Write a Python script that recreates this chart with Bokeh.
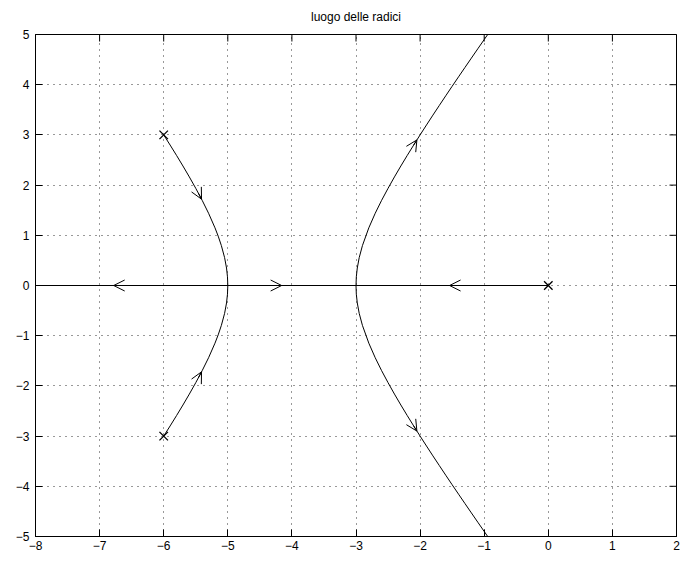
import math

from bokeh.plotting import figure
from bokeh.models import (Range1d, FixedTicker, Arrow, OpenHead,
                          ColumnDataSource, CustomJSTickFormatter)
from bokeh.embed import file_html
from bokeh.resources import INLINE

# Open-loop poles of K / (s (s^2 + 12 s + 45))
pole_re = [0.0, -6.0, -6.0]
pole_im = [0.0, 3.0, -3.0]

# Real-axis part of the locus
axis_re = [-8.0, 0.0]
axis_im = [0.0, 0.0]

# Branch from the upper complex pole down to the break-in point at -5
left_re = [-6.0, -5.9, -5.8, -5.7, -5.6, -5.5, -5.4, -5.3, -5.2, -5.15,
           -5.1, -5.05, -5.02, -5.005, -5.0]
left_im = [3.0, 2.798, 2.592, 2.381, 2.163, 1.936, 1.697, 1.439, 1.149, 0.984,
           0.794, 0.555, 0.348, 0.173, 0.0]

# Branch leaving the breakaway point at -3 towards the +60 deg asymptote
right_re = [-3.0, -2.995, -2.98, -2.95, -2.9, -2.8, -2.7, -2.6, -2.5, -2.4,
            -2.3, -2.2, -2.1, -2.0, -1.9, -1.8, -1.7, -1.6, -1.5, -1.4,
            -1.3, -1.2, -1.1, -1.0, -0.945]
right_im = [0.0, 0.173, 0.348, 0.555, 0.794, 1.149, 1.439, 1.697, 1.936, 2.163,
            2.381, 2.592, 2.798, 3.0, 3.198, 3.394, 3.587, 3.779, 3.969, 4.157,
            4.344, 4.530, 4.715, 4.899, 5.0]

# Direction arrows (tail point -> head point, both on the locus)
arrow_from_re = [-6.5, -4.4, -1.25, -5.46, -5.46, -2.10, -2.10]
arrow_from_im = [0.0, 0.0, 0.0, 1.843, -1.843, 2.798, -2.798]
arrow_to_re = [-6.78, -4.16, -1.54, -5.41, -5.41, -2.05, -2.05]
arrow_to_im = [0.0, 0.0, 0.0, 1.72, -1.72, 2.90, -2.90]

x_ticks = [-8, -7, -6, -5, -4, -3, -2, -1, 0, 1, 2]
y_ticks = [-5, -4, -3, -2, -1, 0, 1, 2, 3, 4, 5]

title_text = "luogo delle radici"

FONT = "Liberation Sans"
X_MIN, X_MAX = -8, 2
Y_MIN, Y_MAX = -5, 5

p = figure(width=684, height=563, x_range=Range1d(X_MIN, X_MAX),
           y_range=Range1d(Y_MIN, Y_MAX),
           output_backend="svg", toolbar_location=None,
           min_border_left=35, min_border_right=8,
           min_border_top=33, min_border_bottom=27,
           title=title_text, background_fill_color="white",
           border_fill_color="white")

p.title.align = "center"
p.title.vertical_align = "top"
p.title.text_font = FONT
p.title.text_font_size = "12px"
p.title.text_font_style = "normal"
p.title.text_color = "black"
p.title.standoff = 18

p.outline_line_color = "black"
p.outline_line_width = 1
p.outline_line_alpha = 1.0

minus_fmt = CustomJSTickFormatter(
    code="return tick < 0 ? '\\u2212' + String(-tick) : String(tick);")

for ax, ticks, standoff in ((p.xaxis[0], x_ticks, 4), (p.yaxis[0], y_ticks, 6)):
    ax.ticker = FixedTicker(ticks=ticks)
    ax.formatter = minus_fmt
    ax.major_tick_in = 7
    ax.major_tick_out = 0
    ax.minor_tick_in = 0
    ax.minor_tick_out = 0
    ax.axis_line_color = "black"
    ax.major_tick_line_color = "black"
    ax.major_label_text_font = FONT
    ax.major_label_text_font_size = "12px"
    ax.major_label_text_color = "black"
    ax.major_label_standoff = standoff

for g, ticks in ((p.xgrid[0], x_ticks), (p.ygrid[0], y_ticks)):
    g.ticker = FixedTicker(ticks=ticks)
    g.grid_line_color = "black"
    g.grid_line_dash = "1 5"
    g.grid_line_width = 1
    g.grid_line_alpha = 0.8

# inward tick marks on the top and right edges of the box (the half that
# falls outside the frame is clipped away)
p.scatter(x_ticks, [Y_MAX] * len(x_ticks), marker="dash", angle=math.pi / 2,
          size=14, line_color="black", line_width=1)
p.scatter([X_MAX] * len(y_ticks), y_ticks, marker="dash",
          size=14, line_color="black", line_width=1)

# locus branches (upper half and its conjugate mirror)
p.line(axis_re, axis_im, line_color="black", line_width=1.1)
p.line(left_re, left_im, line_color="black", line_width=1)
p.line(left_re, [-v for v in left_im], line_color="black", line_width=1)
p.line(right_re, right_im, line_color="black", line_width=1)
p.line(right_re, [-v for v in right_im], line_color="black", line_width=1)

arrow_src = ColumnDataSource(dict(x0=arrow_from_re, y0=arrow_from_im,
                                  x1=arrow_to_re, y1=arrow_to_im))
p.add_layout(Arrow(x_start="x0", y_start="y0", x_end="x1", y_end="y1",
                   source=arrow_src, line_color="black", line_width=1,
                   end=OpenHead(size=11, line_color="black", line_width=1)))

p.scatter(pole_re, pole_im, marker="x", size=12, line_color="black",
          line_width=1.3)

with open("out.html", "w") as f:
    f.write(file_html(p, INLINE))
